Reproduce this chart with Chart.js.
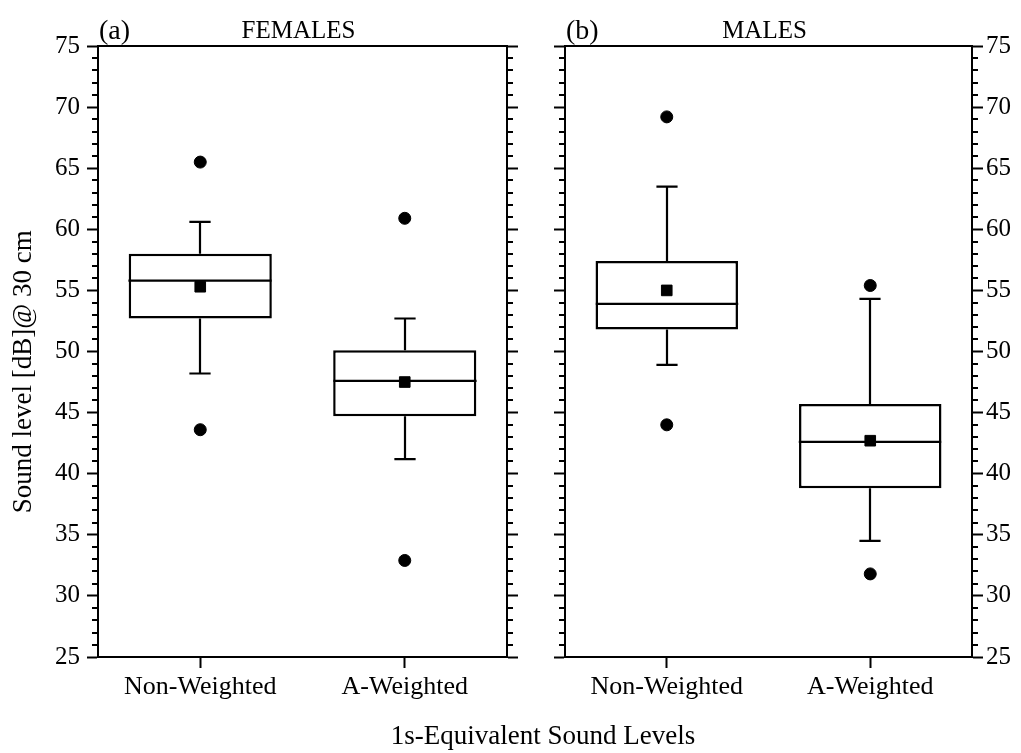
<!DOCTYPE html>
<html>
<head>
<meta charset="utf-8">
<title>Sound levels box plots</title>
<script src="https://cdn.jsdelivr.net/npm/chart.js@4.4.1/dist/chart.umd.min.js"></script>
<style>
  html, body { margin: 0; padding: 0; background: #fff; }
  #wrap { position: relative; width: 1021px; height: 753px; overflow: hidden; }
  #wrap canvas { position: absolute; top: 0; }
  #leftChart { left: 0; }
  #rightChart { left: 536px; }
  #xtitle {
    position: absolute; left: 293px; width: 500px; top: 720px;
    text-align: center; font: 27px "Liberation Serif", "Times New Roman", serif;
    line-height: 30px; color: #000;
  }
</style>
</head>
<body>
<div id="wrap">
  <canvas id="leftChart" width="536" height="753"></canvas>
  <canvas id="rightChart" width="485" height="753"></canvas>
  <div id="xtitle">1s-Equivalent Sound Levels</div>
</div>
<script>
// data
const categories = ['Non-Weighted', 'A-Weighted'];
const yMin = 25, yMax = 75, yStep = 5;

const femalesWhiskerLow  = [48.2, 41.2];
const femalesQ1          = [52.7, 44.7];
const femalesMedian      = [55.8, 47.6];
const femalesQ3          = [58.0, 50.1];
const femalesWhiskerHigh = [60.6, 52.7];
const femalesMean        = [55.3, 47.5];
const femalesOutLow      = [43.6, 32.9];
const femalesOutHigh     = [65.5, 60.9];

const malesWhiskerLow  = [48.9, 34.5];
const malesQ1          = [51.8, 38.8];
const malesMedian      = [53.9, 42.6];
const malesQ3          = [57.4, 45.7];
const malesWhiskerHigh = [63.5, 54.3];
const malesMean        = [55.0, 42.7];
const malesOutLow      = [44.0, 31.8];
const malesOutHigh     = [69.2, 55.4];

const FONT = '"Liberation Serif", "Times New Roman", serif';

function makePanel(canvasId, s, tag, title, side) {
  const isLeft = side === 'left';

  // whiskers, medians, top frame line, minor ticks, panel titles
  const boxExtras = {
    id: 'boxExtras',
    afterDatasetsDraw(chart) {
      const { ctx, scales: { x, y } } = chart;
      const catW = x.getPixelForValue(1) - x.getPixelForValue(0);
      const boxHalf = catW * 0.35;
      const capHalf = catW * 0.052;
      ctx.save();
      ctx.strokeStyle = '#000';
      ctx.lineWidth = 2.2;
      categories.forEach((c, i) => {
        const cx = Math.round(x.getPixelForValue(i));
        const yq1 = y.getPixelForValue(s.q1[i]);
        const yq3 = y.getPixelForValue(s.q3[i]);
        const ylo = y.getPixelForValue(s.lo[i]);
        const yhi = y.getPixelForValue(s.hi[i]);
        const ymed = y.getPixelForValue(s.med[i]);
        ctx.beginPath();
        ctx.moveTo(cx, yq3); ctx.lineTo(cx, yhi);
        ctx.moveTo(cx - capHalf, yhi); ctx.lineTo(cx + capHalf, yhi);
        ctx.moveTo(cx, yq1); ctx.lineTo(cx, ylo);
        ctx.moveTo(cx - capHalf, ylo); ctx.lineTo(cx + capHalf, ylo);
        ctx.moveTo(cx - boxHalf, ymed); ctx.lineTo(cx + boxHalf, ymed);
        ctx.stroke();
      });
      ctx.restore();
    },
    afterDraw(chart) {
      const { ctx, chartArea: { left, right, top }, scales: { y } } = chart;
      ctx.save();
      ctx.strokeStyle = '#000';
      ctx.lineWidth = 2;
      ctx.beginPath();
      ctx.moveTo(left - 1, top);
      ctx.lineTo(right + 1, top);
      for (let v = yMin + 1; v < yMax; v += 1) {
        if (v % yStep === 0) continue;
        const py = Math.round(y.getPixelForValue(v));
        ctx.moveTo(left - 6, py); ctx.lineTo(left, py);
        ctx.moveTo(right, py); ctx.lineTo(right + 6, py);
      }
      ctx.stroke();

      ctx.fillStyle = '#000';
      ctx.textBaseline = 'alphabetic';
      ctx.textAlign = 'left';
      ctx.font = '28px ' + FONT;
      ctx.fillText(tag, left + 1, 39);
      ctx.textAlign = 'center';
      ctx.font = '25px ' + FONT;
      ctx.fillText(title, (left + right) / 2 - 4, 38);
      ctx.restore();
    }
  };

  const tickFont = { family: FONT, size: 25 };
  const gridOpts = { drawOnChartArea: false, tickLength: 11, tickWidth: 2, tickColor: '#000' };
  const borderOpts = { display: true, color: '#000', width: 2 };

  const yLeft = {
    type: 'linear', axis: 'y', position: 'left', min: yMin, max: yMax,
    grid: gridOpts, border: borderOpts,
    ticks: { display: isLeft, stepSize: yStep, color: '#000', font: tickFont, padding: 7 },
    afterFit: sc => { sc.width = isLeft ? 98 : 29; }
  };
  if (isLeft) {
    yLeft.title = {
      display: true,
      text: 'Sound level [dB]@ 30 cm\u00a0\u00a0\u00a0\u00a0\u00a0\u00a0',
      color: '#000',
      font: { family: FONT, size: 27 },
      padding: { top: 8, bottom: 0 }
    };
  }
  const yRight = {
    type: 'linear', axis: 'y', position: 'right', min: yMin, max: yMax,
    grid: gridOpts, border: borderOpts,
    ticks: { display: !isLeft, stepSize: yStep, color: '#000', font: tickFont, padding: 3 },
    afterFit: sc => { sc.width = isLeft ? 29 : 49; }
  };

  return new Chart(document.getElementById(canvasId), {
    type: 'bar',
    data: {
      labels: categories,
      datasets: [
        {
          type: 'line', data: s.mean, showLine: false, yAxisID: 'y',
          pointStyle: 'rect', pointRadius: 7.5, pointHoverRadius: 7.5,
          pointBackgroundColor: '#000', pointBorderColor: '#000', pointBorderWidth: 1, order: 0
        },
        {
          type: 'line', data: s.outHigh, showLine: false, yAxisID: 'y',
          pointStyle: 'circle', pointRadius: 6, pointHoverRadius: 6,
          pointBackgroundColor: '#000', pointBorderColor: '#000', pointBorderWidth: 1, order: 0
        },
        {
          type: 'line', data: s.outLow, showLine: false, yAxisID: 'y',
          pointStyle: 'circle', pointRadius: 6, pointHoverRadius: 6,
          pointBackgroundColor: '#000', pointBorderColor: '#000', pointBorderWidth: 1, order: 0
        },
        {
          type: 'bar', yAxisID: 'y',
          data: s.q1.map((v, i) => [v, s.q3[i]]),
          backgroundColor: '#fff', borderColor: '#000', borderWidth: 2.5,
          borderSkipped: false, barPercentage: 0.7, categoryPercentage: 1, order: 5
        }
      ]
    },
    options: {
      responsive: false,
      animation: false,
      events: [],
      layout: { padding: { top: 46, left: 0, right: 0, bottom: 0 } },
      plugins: { legend: { display: false }, tooltip: { enabled: false }, title: { display: false } },
      scales: {
        x: {
          type: 'category', offset: true,
          grid: { display: true, drawOnChartArea: false, offset: false, tickLength: 11, tickWidth: 2, tickColor: '#000' },
          border: borderOpts,
          ticks: { color: '#000', font: { family: FONT, size: 26 }, padding: 4, maxRotation: 0 },
          afterFit: sc => { sc.height = 96; }
        },
        y: yLeft,
        y2: yRight
      }
    },
    plugins: [boxExtras]
  });
}

const femalesChart = makePanel('leftChart', {
  lo: femalesWhiskerLow, q1: femalesQ1, med: femalesMedian, q3: femalesQ3, hi: femalesWhiskerHigh,
  mean: femalesMean, outLow: femalesOutLow, outHigh: femalesOutHigh
}, '(a)', 'FEMALES', 'left');

const malesChart = makePanel('rightChart', {
  lo: malesWhiskerLow, q1: malesQ1, med: malesMedian, q3: malesQ3, hi: malesWhiskerHigh,
  mean: malesMean, outLow: malesOutLow, outHigh: malesOutHigh
}, '(b)', 'MALES', 'right');
</script>
</body>
</html>
